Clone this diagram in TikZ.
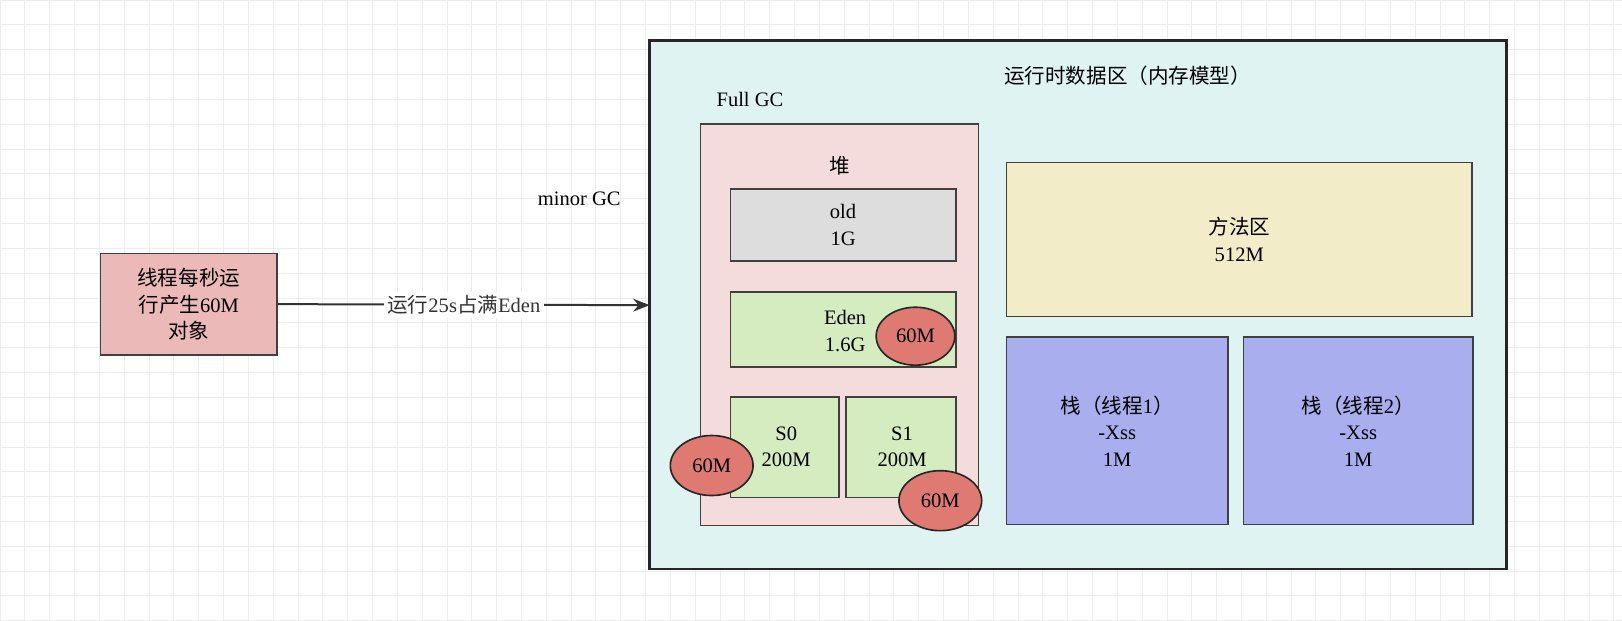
\documentclass[tikz,border=0pt]{standalone}
\usepackage{fontspec}
\setmainfont{Liberation Serif}
\newfontfamily\cjk{Noto Sans CJK SC}
\usetikzlibrary{arrows.meta,shapes.geometric}
\definecolor{gridc}{HTML}{EDEDED}
\begin{document}
\begin{tikzpicture}[x=0.02cm,y=-0.02cm,font=\fontsize{11.3}{14.5}\selectfont,
  bx/.style={draw=black!75,line width=0.9pt,align=center,inner sep=0pt},
  el/.style={ellipse,draw=black!85,line width=0.9pt,fill=ell,inner sep=0pt,minimum width=#1},
  lbl/.style={align=center,inner sep=1pt}]
\definecolor{ell}{HTML}{DE7A72}
\useasboundingbox (0,0) rectangle (1568,600);
\fill[white] (0,0) rectangle (1568,600);
\foreach \i in {0,24,...,1568} \draw[gridc,line width=0.4pt] (\i,0) -- (\i,600);
\foreach \j in {0,24,...,600} \draw[gridc,line width=0.4pt] (0,\j) -- (1568,\j);
% left box
\node[bx,fill={rgb,255:red,235;green,185;blue,183},minimum width=171*0.02cm,minimum height=98*0.02cm] (src) at (182.5,294) {{\cjk 线程每秒运}\\{\cjk 行产生}60M\\{\cjk 对象}};
% big box
\node[draw=black!85,line width=1.6pt,fill={rgb,255:red,223;green,243;blue,243},minimum width=828*0.02cm,minimum height=511*0.02cm,inner sep=0pt] (rt) at (1042,294.5) {};
\node[lbl] (rtt) at (1090,73) {\cjk 运行时数据区（内存模型）};
\coordinate (rtin) at (628,295);
\draw[-{Stealth[length=9pt,width=7pt]},line width=1.1pt,black!80] (src.east) -- node[fill=white,inner sep=2pt] (al) {{\cjk 运行}25s{\cjk 占满}Eden} (rtin);
\node[lbl] (mgc) at (560,192) {minor GC};
\node[lbl] (fgc) at (725,96) {Full GC};
% heap
\node[bx,fill={rgb,255:red,244;green,220;blue,220},minimum width=269*0.02cm,minimum height=388*0.02cm] (heap) at (811.5,314) {};
\node[lbl] (heapt) at (812,160) {\cjk 堆};
\node[bx,fill={rgb,255:red,221;green,221;blue,221},minimum width=218*0.02cm,minimum height=69*0.02cm] (old) at (815,217.5) {old\\1G};
\node[bx,fill={rgb,255:red,213;green,235;blue,192},minimum width=218*0.02cm,minimum height=73*0.02cm] (eden) at (815,318.5) {};
\node[lbl] (edent) at (817,320) {Eden\\1.6G};
\node[bx,fill={rgb,255:red,213;green,235;blue,192},minimum width=105*0.02cm,minimum height=97*0.02cm] (s0) at (758.5,432.5) {};
\node[lbl] (s0t) at (760,432) {S0\\200M};
\node[bx,fill={rgb,255:red,213;green,235;blue,192},minimum width=106*0.02cm,minimum height=97*0.02cm] (s1) at (871,432.5) {};
\node[lbl] (s1t) at (872,432) {S1\\200M};
\node[el=76*0.02cm,minimum height=56*0.02cm] (e1) at (885,325) {60M};
\node[el=80*0.02cm,minimum height=58*0.02cm] (e2) at (688,450) {60M};
\node[el=80*0.02cm,minimum height=58*0.02cm] (e3) at (909,484) {60M};
% right
\node[bx,fill={rgb,255:red,243;green,236;blue,200},minimum width=450*0.02cm,minimum height=149*0.02cm] (meth) at (1198,231.5) {{\cjk 方法区}\\512M};
\node[bx,fill={rgb,255:red,168;green,174;blue,238},minimum width=214*0.02cm,minimum height=181*0.02cm] (st1) at (1080,416.5) {{\cjk 栈（线程}1{\cjk ）}\\-Xss\\1M};
\node[bx,fill={rgb,255:red,168;green,174;blue,238},minimum width=222*0.02cm,minimum height=181*0.02cm] (st2) at (1313,416.5) {{\cjk 栈（线程}2{\cjk ）}\\-Xss\\1M};
\end{tikzpicture}
\end{document}
